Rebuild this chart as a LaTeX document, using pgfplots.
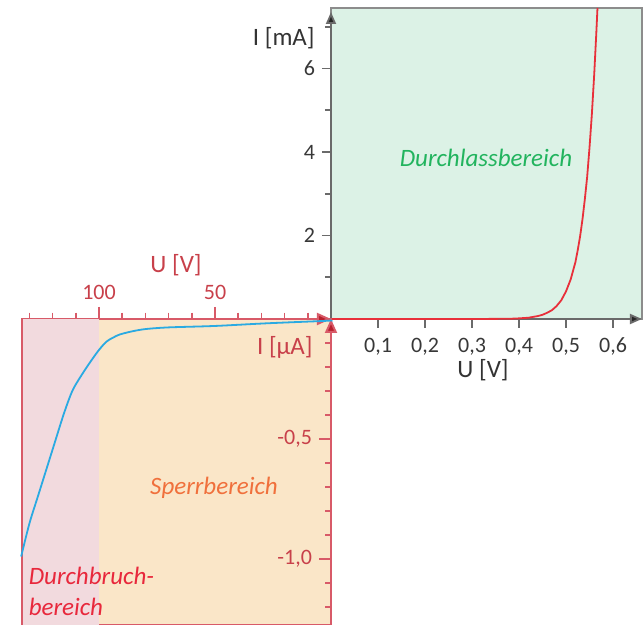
\documentclass[border=0pt]{standalone}
\usepackage{pgfplots}
\pgfplotsset{compat=1.18}
\usepackage{fontspec}
\setmainfont{Carlito}
\usetikzlibrary{arrows.meta}

\definecolor{greenbg}{HTML}{DCF2E6}
\definecolor{orangebg}{HTML}{FAE6C8}
\definecolor{pinkbg}{HTML}{F2DADE}
\definecolor{bordergray}{HTML}{8C8C8C}
\definecolor{axisgray}{HTML}{6A6A6A}
\definecolor{axisred}{HTML}{D85A68}
\definecolor{arrowred}{HTML}{B8202E}
\definecolor{ticklabred}{HTML}{C8404A}
\definecolor{labgreen}{HTML}{22B45E}
\definecolor{laborange}{HTML}{F0703C}
\definecolor{labred}{HTML}{E8283C}
\definecolor{curveblue}{HTML}{2AAAE2}
\definecolor{curvered}{HTML}{E8303A}

\begin{document}
\begin{tikzpicture}[x=1pt,y=1pt,font=\fontsize{11}{13}\selectfont]
\useasboundingbox (-165.5,-153) rectangle (156.5,159.5);

% ---------- forward region ----------
\begin{axis}[
  at={(0,0)}, anchor=south west,
  scale only axis, width=155.5pt, height=155.5pt,
  xmin=0, xmax=0.6617, ymin=0, ymax=7.45,
  axis lines=left,
  axis line style={draw=axisgray, line width=0.9pt},
  x axis line style={-{Triangle[length=6pt,width=5pt,fill=black!85]}},
  y axis line style={-{Triangle[length=6pt,width=5pt,fill=black!85]}, shorten >=2pt},
  axis background/.style={fill=greenbg, draw=bordergray, line width=1pt},
  xtick={0.1,0.2,0.3,0.4,0.5,0.6},
  xticklabels={{0,1},{0,2},{0,3},{0,4},{0,5},{0,6}},
  ytick={2,4,6}, yticklabels={2,4,6},
  minor ytick={1,3,5,7},
  tick align=outside,
  major tick length=4.5pt, minor tick length=3pt,
  every tick/.style={axisgray, line width=0.8pt},
  tick label style={font=\fontsize{11}{13}\selectfont, text=black!78},
  xticklabel style={yshift=-1.5pt},
  clip=false,
]
\addplot[curvered, line width=0.9pt] coordinates {
 (0,0) (0.30,0) (0.38,0.005) (0.40,0.015) (0.42,0.03) (0.44,0.07)
 (0.45,0.10) (0.46,0.15) (0.47,0.21) (0.48,0.31) (0.49,0.45)
 (0.50,0.66) (0.51,0.95) (0.52,1.36) (0.525,1.65) (0.53,1.98)
 (0.535,2.38) (0.54,2.86) (0.545,3.40) (0.55,4.10) (0.555,4.90)
 (0.56,5.85) (0.5645,6.85) (0.567,7.45)
};
\end{axis}

% ---------- reverse region ----------
\begin{axis}[
  at={(0,0)}, anchor=north east,
  scale only axis, width=154.7pt, height=153pt,
  xmin=-133.4, xmax=0, ymin=-1.275, ymax=0,
  axis x line=top, axis y line=right,
  axis line style={draw=axisred, line width=1pt},
  x axis line style={-{Triangle[length=7pt,width=6pt,fill=arrowred]}},
  y axis line style={-{Triangle[length=7pt,width=6pt,fill=arrowred]}},
  axis background/.style={fill=orangebg, draw=axisred, line width=1pt},
  xtick={-100,-50}, xticklabels={100,50},
  minor xtick={-130,-120,-110,-90,-80,-70,-60,-40,-30,-20,-10},
  ytick={-1,-0.5}, yticklabels={{-1,0},{-0,5}},
  minor ytick={-1.2,-1.1,-0.9,-0.8,-0.7,-0.6,-0.4,-0.3,-0.2,-0.1},
  xtick align=outside, ytick align=inside,
  major tick length=6pt, minor tick length=3.2pt,
  every tick/.style={axisred, line width=0.8pt},
  tick label style={font=\fontsize{11}{13}\selectfont, text=ticklabred},
  yticklabel style={anchor=east, xshift=-6pt},
  clip=false,
]
\fill[pinkbg] (axis cs:-133.4,-1.275) rectangle (axis cs:-100,0);
\draw[axisred, line width=1pt] (axis cs:-133.4,-1.275) -- (axis cs:-133.4,0);
\addplot[curveblue, line width=0.9pt, smooth, tension=0.5] coordinates {
 (-133.6,-0.99) (-130.0,-0.851) (-126.4,-0.740) (-122.8,-0.629)
 (-119.2,-0.518) (-115.6,-0.407) (-112.8,-0.330) (-110.6,-0.282)
 (-105.6,-0.205) (-100.6,-0.136) (-96.9,-0.095) (-94,-0.078)
 (-91.2,-0.065) (-86,-0.052) (-80,-0.042) (-70,-0.035) (-50,-0.029)
 (-27.7,-0.018) (-2.8,-0.008) (0,-0.006)
};
\end{axis}

% ---------- labels ----------
\begin{scope}[font=\fontsize{12.5}{15}\selectfont, inner sep=0pt]
\node[anchor=east, text=black!80] at (-8,140.5) {I [mA]};
\node[text=black!80] at (76,-25.5) {U [V]};
\node[text=ticklabred] at (-77.5,27) {U [V]};
\node[anchor=east, text=ticklabred] at (-9,-14) {I [µA]};
\node[text=labgreen] at (77.5,80.5) {\itshape Durchlassbereich};
\node[text=laborange] at (-58.5,-84.5) {\itshape Sperrbereich};
\node[anchor=base west, text=labred] at (-151.3,-133) {\itshape Durchbruch-};
\node[anchor=base west, text=labred] at (-151.3,-148.5) {\itshape bereich};
\end{scope}
\end{tikzpicture}
\end{document}
